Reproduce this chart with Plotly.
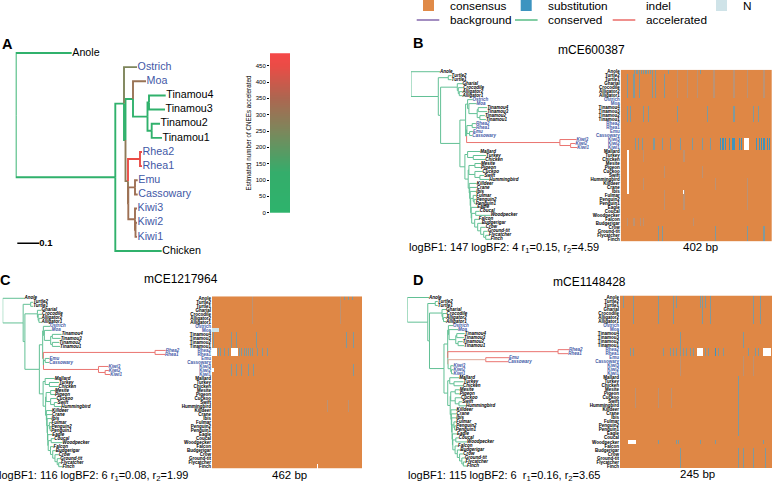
import re
import numpy as np
import plotly.graph_objects as go
from plotly.colors import sample_colorscale

W, H = 772, 483
FONT = "Liberation Sans"
BLUE = "#3f58a6"
CONSERVED = "#62c095"
ACCEL = "#ea7470"
MIXED = "#dfa898"
TAGS = {"c": CONSERVED, "a": ACCEL, "m": MIXED}

SPECIES = ["Anole", "Turtle2", "Turtle1", "Gharial", "Crocodile", "Alligator2", "Alligator1",
           "Ostrich", "Moa", "Tinamou4", "Tinamou3", "Tinamou2", "Tinamou1", "Rhea2", "Rhea1",
           "Emu", "Cassowary", "Kiwi3", "Kiwi2", "Kiwi1", "Mallard", "Turkey", "Chicken",
           "Mesite", "Pigeon", "Cuckoo", "Swift", "Hummingbird", "Killdeer", "Crane", "Ibis",
           "Fulmar", "Penguin2", "Penguin1", "Eagle", "Coucal", "Woodpecker", "Falcon",
           "Budgerigar", "Crow", "Ground-tit", "Flycatcher", "Finch"]
PALEOGNATHS = {"Ostrich", "Moa", "Rhea2", "Rhea1", "Emu", "Cassowary", "Kiwi3", "Kiwi2", "Kiwi1"}

# Panel A: branch lengths in tree units (220 units = 0.1 subs/site), [n] = accelerated CNEEs
TREE_A = ("(Anole:56[40],((Ostrich:13[255],"
          "((Moa:13[310],((Tinamou4:16.7,Tinamou3:16):1.5,(Tinamou2:8.3,Tinamou1:10.3):4.2):14.5):7.5[40],"
          "((Rhea2:2,Rhea1:2):12[450],((Emu:2.7,Cassowary:2.7):6.7[320],"
          "(Kiwi3:2,(Kiwi2:1.5,Kiwi1:1.5):0.5):6.7[320]):0.3[300]):2.5[290]):1.5[40]):8.7[40],"
          "Chicken:46.4[40]):99.6[40])")
SCALE_BAR_SUBS = 0.1
UNITS_PER_SUB = 220

CORE = ("(Anole:29,((Turtle2:3.3,Turtle1:3.3):10,((Gharial:5.3,(Crocodile:5,(Alligator2:3.3,"
        "Alligator1:3.3):1):1):16.7,(@PALEO@,NEOG):19.3):2.3):27.3)")
NEOG = ("((Mallard:12.7,(Turkey:12.7,Chicken:12):5.7):2.7,(((Mesite:6,Pigeon:6):6,(Cuckoo:7.7,"
        "(Swift:4.3,Hummingbird:9.3):5):6):0.7,(Killdeer:7.5,(Crane:7,(Ibis:6,((Fulmar:3,"
        "(Penguin2:2,Penguin1:1.5):1):2.5,(Eagle:6,((Coucal:4,Woodpecker:15):4,(Falcon:4,"
        "(Budgerigar:4,(Crow:5,(Ground-tit:4,(Flycatcher:3,Finch:5):2):3):3):3):3):0.5):0.5):0.5):0.5):0.5):1):3.3):5")
PALEO_B = ("((Ostrich:5,(Moa:7.7,((Tinamou4:9,Tinamou3:9):1,(Tinamou2:5,Tinamou1:6):2.7):8.3):1.3):2,"
           "(((Rhea2:3.7,Rhea1:3.7):5.3,(Emu:3.3,Cassowary:2.7):2.7):0.3,"
           "(Kiwi3:16.7,(Kiwi2:5,Kiwi1:6.7):10.7):93.3[a]):1):5.7")
PALEO_C = ("((Ostrich:6.7,(Moa:7.3,((Tinamou4:9.3,Tinamou3:8.3):1.7,(Tinamou2:7,Tinamou1:7.7):1.7):6.3):1):0.7,"
           "((Rhea2:10.7,Rhea1:10):111.7[a],((Emu:4.3,Cassowary:4):1.7,"
           "(Kiwi3:10,(Kiwi2:3.7,Kiwi1:5):6.7):55[a]):0.1):0.7):3.3")
PALEO_D = ("((Ostrich:4.7,(Moa:9,((Tinamou4:8,Tinamou3:7.3):1,(Tinamou2:4.7,Tinamou1:6):2.3):6.7):0.7):0.7,"
           "((Rhea2:11,Rhea1:10.3):110.3[a],((Emu:23.3[a],Cassowary:22.3[a]):37.7[m],"
           "(Kiwi3:2.7,(Kiwi2:2,Kiwi1:2):0.7):2.7):0.3):0.1):3.7")

CB_STOPS = [[0, "#2eb36c"], [0.25, "#34ad6b"], [0.5, "#79895c"], [0.72, "#ad6650"], [0.92, "#ea4c46"], [1, "#f54848"]]
CB_TICKS = [0, 50, 100, 150, 200, 250, 300, 350, 400, 450]
CB_MAX = 488

# Alignments: (first row, last row, sites, state)
# state 0 consensus, 1 substitution, 2 indel, 3 N, 4 thin substitution stripe, 5 faint stripe
B_TRACKS = [
    ("Turtle2", "Alligator1", [16, 34, 48, 82, 91, 114], 4),
    ("Anole", "Alligator1", [149, 176, 202, 247, 300, 335, 380], 5),
    ("Anole", "Anole", [36, 42, 48, 54, 60, 66, 72, 78, 84, 91, 125, 210], 4),
    ("Tinamou4", "Tinamou1", [16, 25, 60, 73, 149, 229, 300, 353, 366], 4),
    ("Kiwi3", "Kiwi1", [38, 47, 56, 87, 109, 131, 158, 189, 216, 238], 4),
    ("Kiwi3", "Kiwi1", [265, 271, 278, 287, 296, 300, 314, 319, 361, 367, 373, 380, 389, 394], 1),
    ("Kiwi3", "Kiwi1", [(327, 340)], 2),
    ("Mallard", "Chicken", [16, 60, 167], 5),
    ("Pigeon", "Swift", [114, 216], 5),
    ("Hummingbird", "Crane", [60, 252, 335], 5),
    ("Ibis", "Eagle", [114, 167, 335], 5),
    ("Mallard", "Ibis", [18], 2),
    ("Ibis", "Ibis", [165], 2),
    ("Falcon", "Budgerigar", [16, 34, 51, 60, 193], 5),
    ("Crow", "Finch", [100, 109, 252, 335, 380], 4),
]
C_TRACKS = [
    ("Anole", "Alligator1", [24, 74, 124, 342, 362, 395], 5),
    ("Anole", "Anole", [408, 412, 416, 420, 424, 428, 432], 4),
    ("Turtle1", "Alligator2", [409], 2),
    ("Moa", "Moa", [(0, 20)], 3),
    ("Tinamou4", "Tinamou1", [4, 14, 24, 55, 60, 65, 75, 105, 137, 168, 255, 394, 414, 435], 4),
    ("Rhea2", "Rhea1", [20, 26, 30, 34, 38, 42, 46, 50, 80, 84, 90, 94, 100, 106, 112, 118, 124, 140, 155, 170], 4),
    ("Rhea2", "Rhea1", [(0, 14), (58, 78)], 2),
    ("Kiwi3", "Kiwi1", [24, 34, 45, 55, 60, 65, 70, 75, 80, 85, 90, 95, 112, 127, 163, 215, 282, 394, 435], 4),
    ("Kiwi2", "Kiwi2", [(0, 4)], 2),
    ("Mallard", "Turkey", [55, 76, 136], 5),
    ("Pigeon", "Cuckoo", [136, 190, 430], 5),
    ("Swift", "Killdeer", [76, 355, 375, 406, 410, 420], 5),
    ("Eagle", "Finch", [76, 406], 5),
    ("Crow", "Finch", [430], 4),
    ("Crow", "Crow", [406], 2),
    ("Finch", "Finch", [(322, 324)], 2),
]
D_TRACKS = [
    ("Anole", "Alligator1", [21, 56, 62, 86, 132, 140, 145, 215, 226], 4),
    ("Anole", "Turtle1", [5, 59, 91, 129, 137], 4),
    ("Turtle2", "Turtle2", [230], 2),
    ("Tinamou4", "Tinamou1", [64, 97, 188, 199], 4),
    ("Rhea2", "Rhea1", [16, 21, 27, 32, 48, 59, 70, 81, 86, 91, 97, 102, 107, 113, 118, 137, 142,
                        158, 166, 196, 201, 207, 212, 218, 223], 4),
    ("Rhea2", "Rhea1", [148, 153, 180, 183, 185], 1),
    ("Rhea2", "Rhea1", [(124, 133), (231, 242)], 2),
    ("Emu", "Kiwi1", [97, 199, 215], 5),
    ("Mallard", "Turkey", [191, 148], 4),
    ("Mesite", "Hummingbird", [24, 62, 83], 5),
    ("Chicken", "Eagle", [191], 4),
    ("Ibis", "Fulmar", [48], 5),
    ("Woodpecker", "Woodpecker", [30, 43, 62, 91, 94, 129, 153, 177, 204, 212, 231], 4),
    ("Woodpecker", "Woodpecker", [(13, 24)], 2),
    ("Budgerigar", "Finch", [32, 64, 97, 191, 199, 215, 234], 4),
    ("Flycatcher", "Flycatcher", [148], 2),
]

PANELS = [
    dict(key="B", length=402, k=1.0, paleo=PALEO_B, root=411, row0=71.7, rowN=239.3, hx=(620.7, 772), span=3,
         title="mCE600387", tpos=(591, 50), log="logBF1: 147 logBF2: 4 r<sub>1</sub>=0.15, r<sub>2</sub>=4.59",
         lpos=(409, 248), bp="402 bp", bpos=(700, 247), tracks=B_TRACKS),
    dict(key="C", length=462, k=0.75, paleo=PALEO_C, root=2.7, row0=298.3, rowN=466.7, hx=(212, 362.3), span=1,
         title="mCE1217964", tpos=(181, 279), log="logBF1: 116 logBF2: 6 r<sub>1</sub>=0.08, r<sub>2</sub>=1.99",
         lpos=(-1, 475.5), bp="462 bp", bpos=(289, 475), tracks=C_TRACKS),
    dict(key="D", length=245, k=0.75, paleo=PALEO_D, root=407.3, row0=297.5, rowN=466, hx=(620, 772), span=1,
         title="mCE1148428", tpos=(589, 282), log="logBF1: 115 logBF2: 6  r<sub>1</sub>=0.16, r<sub>2</sub>=3.65",
         lpos=(408, 476), bp="245 bp", bpos=(697, 474), tracks=D_TRACKS),
]

LEGEND_SWATCHES = [("consensus", "#e08a48"), ("substitution", "#3d94c0"), ("indel", "#ffffff"), ("N", "#cfe3e8")]
LEGEND_LINES = [("background", "#7b5ea7"), ("conserved", "#4cb87d"), ("accelerated", "#e8605c")]
STATE_COLOURS = ["#df8745", "#3f93bd", "#ffffff", "#cfe3e8", "#7f999d", "#bc9273"]
HEAT_SCALE = []
for i, c in enumerate(STATE_COLOURS):
    HEAT_SCALE += [[i / 6, c], [(i + 1) / 6, c]]


def parse_newick(s):
    pos = [0]

    def node():
        n = dict(children=[], name="", length=0.0, tag=None)
        if s[pos[0]] == "(":
            pos[0] += 1
            while True:
                n["children"].append(node())
                c = s[pos[0]]
                pos[0] += 1
                if c == ")":
                    break
        m = re.compile(r"[A-Za-z0-9\-]*").match(s, pos[0])
        n["name"] = m.group(0)
        pos[0] = m.end()
        if s[pos[0]:pos[0] + 1] == ":":
            m = re.compile(r":([0-9.]+)").match(s, pos[0])
            n["length"] = float(m.group(1))
            pos[0] = m.end()
        if s[pos[0]:pos[0] + 1] == "[":
            e = s.index("]", pos[0])
            n["tag"] = s[pos[0] + 1:e]
            pos[0] = e + 1
        return n

    return node()


def layout_tree(root, default_tag):
    segs, tips, counter = [], [], [0]

    def walk(n, x0, tag):
        t = n["tag"] or tag
        x = x0 + n["length"]
        if n["children"]:
            ys = [walk(c, x, t) for c in n["children"]]
            n_y = (ys[0] + ys[-1]) / 2
        else:
            n_y = counter[0]
            counter[0] += 1
            tips.append((n["name"], x, n_y))
        n["_x0"], n["_x"], n["_y"], n["_t"] = x0, x, n_y, t
        return n_y

    walk(root, 0.0, default_tag)

    def collect(n, parent_y):
        if parent_y is not None:
            segs.append((n["_t"], n["_x0"], parent_y, n["_x"], n["_y"]))
        for c in n["children"]:
            collect(c, n["_y"])

    collect(root, None)
    return segs, tips


def rescale(s, k):
    return re.sub(r":([0-9.]+)", lambda m: ":%.3f" % (float(m.group(1)) * k), s)


fig = go.Figure()
axes = {}
ax_n = [0]


def new_axes(box_x, box_y, rx, ry, **yopts):
    ax_n[0] += 1
    i = ax_n[0]
    xid, yid = ("x", "y") if i == 1 else (f"x{i}", f"y{i}")
    base = dict(showgrid=False, zeroline=False, showticklabels=False, ticks="", showline=False,
                fixedrange=True, automargin=False)
    xname = "xaxis" if i == 1 else f"xaxis{i}"
    yname = "yaxis" if i == 1 else f"yaxis{i}"
    axes[xname] = dict(base, domain=[box_x[0] / W, box_x[1] / W], range=list(rx), anchor=yid)
    yb = dict(base, domain=[1 - box_y[1] / H, 1 - box_y[0] / H], range=list(ry), anchor=xid)
    yb.update(yopts)
    axes[yname] = yb
    return xid, yid


def add_segments(segs, xa, ya, colour_of, width):
    groups = {}
    for t, x0, py, x1, y1 in segs:
        groups.setdefault(t, []).append((x0, py, x1, y1))
    for t, lst in groups.items():
        xs, ys = [], []
        for x0, py, x1, y1 in lst:
            xs += [x0, x0, x1, None]
            ys += [py, y1, y1, None]
        fig.add_trace(go.Scatter(x=xs, y=ys, mode="lines", xaxis=xa, yaxis=ya, hoverinfo="skip",
                                 line=dict(color=colour_of(t), width=width), showlegend=False))


def add_tips(tips, xa, ya, size, style="normal", weight="normal", dx=0.0):
    fig.add_trace(go.Scatter(x=[t[1] + dx for t in tips], y=[t[2] for t in tips], text=[t[0] for t in tips],
                             mode="text", textposition="middle right", xaxis=xa, yaxis=ya, hoverinfo="skip",
                             cliponaxis=False, showlegend=False,
                             textfont=dict(family=FONT, size=size, style=style, weight=weight,
                                           color=[BLUE if t[0] in PALEOGNATHS else "black" for t in tips])))


# Panel A
A_ROW0, A_ROWN = 53.0, 251.0
step_a = (A_ROWN - A_ROW0) / 14
xa, ya = new_axes((15.7, 230), (A_ROW0 - step_a, A_ROWN + step_a), (0, 214.3), (15, -1))
segs, tips = layout_tree(parse_newick(TREE_A), "40")
add_segments(segs, xa, ya, lambda t: sample_colorscale(CB_STOPS, [float(t) / CB_MAX])[0], 1.9)
add_tips(tips, xa, ya, 10.7, dx=0.6)
fig.add_trace(go.Scatter(x=[1.6, 1.6 + SCALE_BAR_SUBS * UNITS_PER_SUB], y=[13.45, 13.45], mode="lines+text",
                         text=["", "0.1"], textposition="middle right", xaxis=xa, yaxis=ya, hoverinfo="skip",
                         textfont=dict(family=FONT, size=9.5, color="black", weight="bold"),
                         line=dict(color="black", width=1.6), showlegend=False))

# Colour bar of panel A
levels = list(range(0, CB_MAX + 1, 2))
xa, ya = new_axes((270, 290), (53.3, 212.7), (-0.5, 0.5), (0, CB_MAX),
                  showticklabels=True, ticks="outside", ticklen=2, tickwidth=0.6, tickcolor="black",
                  tickmode="array", tickvals=CB_TICKS, ticktext=[str(v) for v in CB_TICKS],
                  tickfont=dict(family=FONT, size=6, color="black"),
                  title=dict(text="Estimated number of CNEEs accelerated", standoff=3,
                             font=dict(family=FONT, size=6.3, color="black")))
fig.add_trace(go.Heatmap(z=[[v] for v in levels], x=[0], y=levels, colorscale=CB_STOPS, zmin=0, zmax=CB_MAX,
                         showscale=False, xaxis=xa, yaxis=ya, hoverinfo="skip"))

annotations = []


def note(text, x, y, size, anchor="left", **font):
    annotations.append(dict(text=text, x=x / W, y=1 - y / H, xref="paper", yref="paper", showarrow=False,
                            xanchor=anchor, yanchor="middle", xshift=0, borderpad=0, borderwidth=0,
                            font=dict(family=FONT, size=size, color="black", **font)))


# Panels B, C, D
labels = [(f'<span style="color:{BLUE}">{s}</span>' if s in PALEOGNATHS else s) for s in SPECIES]
for p in PANELS:
    step = (p["rowN"] - p["row0"]) / 42
    box_y = (p["row0"] - step / 2, p["rowN"] + step / 2)
    nwk = rescale(CORE.replace("NEOG", NEOG), p["k"]).replace("@PALEO@", p["paleo"])
    xa, ya = new_axes((p["root"], p["hx"][0]), box_y, (0, p["hx"][0] - p["root"]), (42.5, -0.5))
    segs, tips = layout_tree(parse_newick(nwk), "c")
    add_segments(segs, xa, ya, lambda t: TAGS[t], 1.0)
    add_tips(tips, xa, ya, 4.5, style="italic", weight="bold")

    z = np.zeros((len(SPECIES), p["length"]), dtype=int)
    for first, last, sites, state in p["tracks"]:
        r0, r1 = SPECIES.index(first), SPECIES.index(last)
        for s in sites:
            if isinstance(s, tuple):
                z[r0:r1 + 1, s[0]:s[1] + 1] = state
            else:
                z[r0:r1 + 1, s:s + p["span"]] = state
    xa, ya = new_axes(p["hx"], box_y, (-0.5, p["length"] - 0.5), (42.5, -0.5),
                      showticklabels=True, tickmode="array", tickvals=list(range(len(SPECIES))), ticktext=labels,
                      tickfont=dict(family=FONT, size=4.5, color="black", weight="bold"), ticklen=0)
    fig.add_trace(go.Heatmap(z=z.tolist(), colorscale=HEAT_SCALE, zmin=-0.5, zmax=5.5, showscale=False,
                             xaxis=xa, yaxis=ya, hoverinfo="skip"))
    note(p["title"], p["tpos"][0], p["tpos"][1], 12, anchor="center")
    note(p["log"], p["lpos"][0], p["lpos"][1], 11)
    note(p["bp"], p["bpos"][0], p["bpos"][1], 11.5, anchor="center")

for letter, x, y in [("A", 1.5, 44), ("B", 412.5, 43), ("C", 0, 280), ("D", 412.5, 280)]:
    note(letter, x, y, 14.5, weight="bold")

# Legend
shapes = []
for (name, colour), x0, tx in zip(LEGEND_SWATCHES, [423, 520.7, 618, 716], [450, 547.7, 645.7, 743]):
    shapes.append(dict(type="rect", xref="paper", yref="paper", x0=x0 / W, x1=(x0 + 11) / W, y0=1 - 11 / H, y1=1,
                       fillcolor=colour, line=dict(width=0)))
    note(name, tx, 6, 11.8)
for (name, colour), x0, tx in zip(LEGEND_LINES, [416.7, 515, 612.7], [450, 547.7, 645.7]):
    shapes.append(dict(type="line", xref="paper", yref="paper", x0=x0 / W, x1=(x0 + 22.6) / W,
                       y0=1 - 20 / H, y1=1 - 20 / H, line=dict(color=colour, width=1.4)))
    note(name, tx, 20.5, 11.8)

fig.update_layout(width=W, height=H, margin=dict(l=0, r=0, t=0, b=0, autoexpand=False),
                  paper_bgcolor="white", plot_bgcolor="white",
                  showlegend=False, font=dict(family=FONT), annotations=annotations, shapes=shapes, **axes)
fig.write_html("out.html", config={"displayModeBar": False},
               post_script="document.body.style.margin='0';document.body.style.overflow='hidden';")
